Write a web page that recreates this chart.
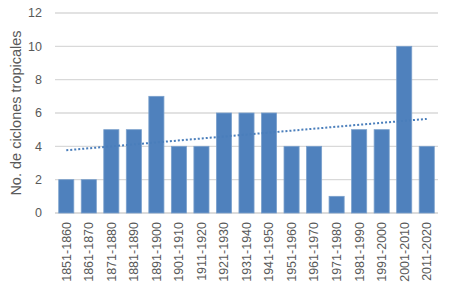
<!DOCTYPE html>
<html>
<head>
<meta charset="utf-8">
<script src="https://cdn.jsdelivr.net/npm/d3@7"></script>
<style>
  body { margin: 0; background: #fff; }
  text { font-family: "Liberation Sans", Arial, sans-serif; fill: #595959; }
</style>
</head>
<body>
<div id="chart"></div>
<script>
const decades = ["1851-1860", "1861-1870", "1871-1880", "1881-1890", "1891-1900",
  "1901-1910", "1911-1920", "1921-1930", "1931-1940", "1941-1950", "1951-1960",
  "1961-1970", "1971-1980", "1981-1990", "1991-2000", "2001-2010", "2011-2020"];
const ciclones = [2, 2, 5, 5, 7, 4, 4, 6, 6, 6, 4, 4, 1, 5, 5, 10, 4];
const yTicks = [0, 2, 4, 6, 8, 10, 12];

const width = 450;
const height = 285;
const margin = { top: 13, right: 12, bottom: 72, left: 55 };

const svg = d3
  .select("#chart")
  .append("svg")
  .attr("width", width)
  .attr("height", height);

const x = d3
  .scaleBand()
  .domain(decades)
  .range([margin.left, width - margin.right])
  .paddingInner(0.33)
  .paddingOuter(0.165);

const y = d3
  .scaleLinear()
  .domain([0, 12])
  .range([height - margin.bottom, margin.top]);

// gridlines
svg
  .selectAll(".grid")
  .data(yTicks)
  .enter()
  .append("line")
  .attr("class", "grid")
  .attr("x1", margin.left)
  .attr("x2", width - margin.right)
  .attr("y1", (d) => y(d))
  .attr("y2", (d) => y(d))
  .attr("stroke", (d) => (d === 0 ? "#d0d0d0" : "#d9d9d9"))
  .attr("stroke-width", 1.3);

// y tick labels
svg
  .selectAll(".ylab")
  .data(yTicks)
  .enter()
  .append("text")
  .attr("class", "ylab")
  .attr("x", 42)
  .attr("y", (d) => y(d))
  .attr("dy", "0.35em")
  .attr("text-anchor", "end")
  .style("font-size", "12.5px")
  .text((d) => d);

// bars
svg
  .selectAll(".bar")
  .data(ciclones)
  .enter()
  .append("rect")
  .attr("class", "bar")
  .attr("x", (d, i) => x(decades[i]))
  .attr("width", x.bandwidth())
  .attr("y", (d) => y(d))
  .attr("height", (d) => y(0) - y(d))
  .attr("fill", "#4f81bd")
  .attr("stroke", "#7aa0cc")
  .attr("stroke-width", 0.8);

// linear trendline (least squares over the bar values)
const n = ciclones.length;
const xs = d3.range(1, n + 1);
const mx = d3.mean(xs);
const my = d3.mean(ciclones);
const slope =
  d3.sum(xs, (v, i) => (v - mx) * (ciclones[i] - my)) /
  d3.sum(xs, (v) => (v - mx) * (v - mx));
const trend = [0, n - 1].map((i) => ({ cat: decades[i], val: my + slope * (xs[i] - mx) }));

svg
  .append("path")
  .datum(trend)
  .attr("fill", "none")
  .attr("stroke", "#4a7ebb")
  .attr("stroke-width", 2)
  .attr("stroke-dasharray", "2,2")
  .attr(
    "d",
    d3
      .line()
      .x((d) => x(d.cat) + x.bandwidth() / 2)
      .y((d) => y(d.val))
  );

// x labels, rotated
svg
  .selectAll(".xlab")
  .data(decades)
  .enter()
  .append("text")
  .attr("class", "xlab")
  .attr("transform", (d) => `translate(${x(d) + x.bandwidth() / 2},${y(0) + 9}) rotate(-90)`)
  .attr("dy", "0.35em")
  .attr("text-anchor", "end")
  .style("font-size", "12.5px")
  .text((d) => d);

// y axis title
svg
  .append("text")
  .attr("transform", `translate(16,${113}) rotate(-90)`)
  .attr("dy", "0.35em")
  .attr("text-anchor", "middle")
  .style("font-size", "14.5px")
  .text("No. de ciclones tropicales");
</script>
</body>
</html>
